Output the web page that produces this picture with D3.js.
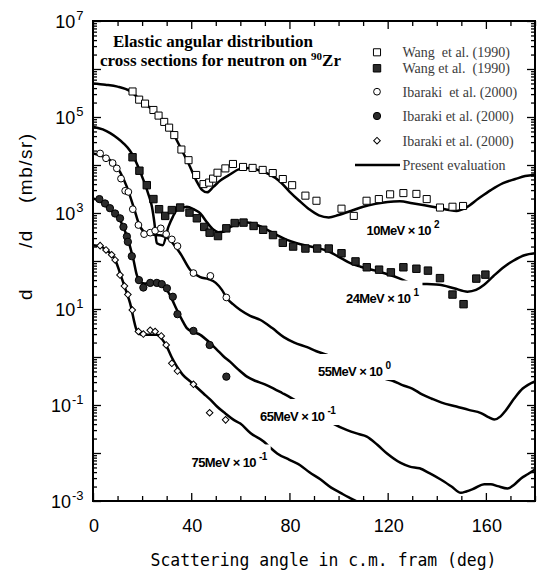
<!DOCTYPE html>
<html>
<head>
<meta charset="utf-8">
<script src="https://cdn.jsdelivr.net/npm/d3@7.9.0/dist/d3.min.js"></script>
<style>
  body { margin: 0; background: #fff; }
  svg { display: block; }
</style>
</head>
<body>
<svg id="chart" width="539" height="577"></svg>
<script>
// angle (deg, c.m.) and dsigma/dOmega (mb/sr), already multiplied by the scale factor
const eval10 = [[0, 5.0e5], [5, 4.7e5], [10, 4.3e5], [15, 3.5e5], [20, 2.1e5], [25, 1.3e5], [30, 6.9e4], [33, 4.2e4], [36, 2.1e4], [39, 1.05e4], [42, 4.8e3], [44.5, 3.0e3], [46.5, 2.7e3], [49, 3.5e3], [52, 4.8e3], [55, 6.0e3], [60, 8.3e3], [64, 8.7e3], [68, 7.6e3], [72, 6.3e3], [76, 4.6e3], [80, 2.8e3], [84, 1.8e3], [88, 1.2e3], [92, 890], [96, 810], [100, 910], [105, 1.1e3], [110, 1.35e3], [115, 1.55e3], [120, 1.7e3], [125, 1.75e3], [130, 1.6e3], [135, 1.45e3], [140, 1.3e3], [145, 1.15e3], [148, 1.1e3], [152, 1.3e3], [157, 2.0e3], [162, 3.0e3], [167, 4.2e3], [172, 5.1e3], [176, 5.9e3], [180, 6.3e3]];
const eval24 = [[0, 6.3e4], [4, 5.5e4], [7, 4.6e4], [10, 3.6e4], [12.5, 2.8e4], [15, 2.0e4], [16.5, 1.5e4], [18.5, 8.9e3], [20.5, 4.9e3], [22.5, 2.5e3], [24, 1.35e3], [25, 630], [26, 234], [28.4, 214], [30.7, 513], [32.5, 832], [34.2, 1.15e3], [38.2, 1.35e3], [41, 1.2e3], [43.7, 980], [46.5, 630], [49.1, 447], [51, 398], [53.2, 407], [56, 513], [60, 617], [63, 631], [66.8, 562], [71, 447], [75, 347], [79, 275], [83, 234], [88.6, 200], [95, 166], [101, 115], [105, 89], [109, 76], [115, 63], [121, 51], [125, 43], [129.4, 35], [136, 33], [141, 32], [147, 27], [152.5, 23], [156, 25], [159.3, 32], [163, 48], [167.5, 76], [171, 100], [175.7, 132], [180, 145]];
const eval55 = [[0, 1.74e4], [3, 1.58e4], [7, 1.26e4], [11, 7.2e3], [13.8, 3.5e3], [16.5, 1.35e3], [19.2, 513], [21.9, 380], [26, 347], [28.5, 331], [31.4, 275], [33.5, 200], [35.5, 145], [39.6, 65], [43.7, 46], [47, 42], [50, 35], [52.5, 25], [54.6, 16.6], [57, 12.6], [60, 9.5], [64, 7.2], [68.2, 5.9], [73, 4.0], [77.7, 2.6], [82, 2.0], [87.2, 1.6], [91, 1.32], [95.4, 1.10], [100, 0.85], [105, 0.66], [110, 0.52], [115, 0.42], [119, 0.35], [122, 0.32], [126, 0.26], [130, 0.22], [134, 0.166], [138, 0.135], [142, 0.112], [148, 0.093], [153, 0.079], [158, 0.068], [161, 0.056], [163.4, 0.050], [166, 0.058], [168, 0.076], [171.6, 0.138], [175, 0.22], [177, 0.26], [180, 0.31]];
const eval65 = [[0, 2.0e3], [3, 1.74e3], [5.6, 1.35e3], [8, 1.07e3], [11, 708], [13.8, 324], [16.5, 105], [17.8, 52], [19.5, 36], [21, 34], [26, 35], [28, 32], [30.1, 25], [32, 16.6], [34.2, 9.5], [36.2, 6.0], [38.2, 4.0], [41, 3.3], [43.7, 2.9], [47, 2.1], [50.5, 1.41], [53, 1.05], [55.9, 0.79], [59, 0.56], [62.7, 0.39], [66, 0.32], [70, 0.27], [73.6, 0.22], [77, 0.178], [81, 0.138], [85, 0.105], [89, 0.079], [93, 0.058], [97.4, 0.042], [103.5, 0.030], [108, 0.025], [111.5, 0.022], [115.8, 0.0148], [120, 0.0095], [125.3, 0.0062], [129, 0.0052], [133, 0.0048], [137, 0.0038], [141.6, 0.0028], [146, 0.0020], [149.8, 0.00148], [152, 0.00158], [155.2, 0.00182], [159.3, 0.00224], [162, 0.00224], [164.8, 0.00204], [168.8, 0.00182], [171.5, 0.00219], [174.3, 0.00295], [177, 0.0036], [180, 0.0045]];
const eval75 = [[0, 214], [3, 204], [5.3, 170], [7.6, 135], [9, 107], [11, 56], [13, 28], [15.1, 13.2], [17.8, 3.6], [19.5, 2.95], [22, 2.9], [26, 2.9], [28, 2.4], [30.1, 1.62], [32, 1.0], [34.2, 0.63], [36.5, 0.43], [39.6, 0.31], [42, 0.24], [45, 0.174], [48, 0.126], [50.5, 0.093], [54, 0.066], [57.3, 0.049], [60, 0.041], [64.1, 0.026], [69.5, 0.0174], [72, 0.0132], [75, 0.0098], [80, 0.0072], [84.5, 0.0055], [88, 0.0040], [92.7, 0.0028], [97, 0.0019], [100.8, 0.00148], [104, 0.0012], [107, 0.0010], [110, 0.00087]];

const wang10 = [[16.1, 3.4e5], [18.8, 2.3e5], [21.2, 1.9e5], [24.6, 1.4e5], [26.7, 1.07e5], [29, 7.9e4], [31, 6.0e4], [33.1, 4.2e4], [36, 2.1e4], [38.9, 1.26e4], [42, 6.2e3], [45, 4.0e3], [47.3, 4.3e3], [48.9, 5.2e3], [50.7, 6.9e3], [53.9, 8.5e3], [57, 1.05e4], [61.1, 9.1e3], [65, 8.7e3], [69.1, 7.9e3], [73.2, 6.8e3], [77.3, 5.1e3], [81.1, 3.8e3], [86.5, 2.3e3], [91, 1.8e3], [101.2, 1.23e3], [106.2, 870], [111.4, 1.8e3], [116.4, 1.95e3], [121, 2.45e3], [126.4, 2.6e3], [131.7, 2.5e3], [135.9, 1.95e3], [141.3, 1.3e3], [146.4, 1.35e3], [150.7, 1.4e3]];
const wang24 = [[16.1, 1.45e4], [18.9, 7.6e3], [21.9, 3.8e3], [24.6, 1.95e3], [26.9, 1.2e3], [29.4, 870], [32.1, 1.15e3], [35.5, 1.3e3], [39.3, 1.02e3], [42.3, 776], [45.3, 513], [47.5, 389], [50.9, 331], [54.3, 479], [57.7, 617], [61.3, 631], [65.4, 537], [69.3, 447], [73.3, 347], [77.3, 240], [81.5, 200], [86.5, 182], [91.3, 182], [96, 182], [101.2, 145], [106.9, 98], [111.5, 74], [116.5, 66], [121.3, 58], [126.4, 74], [131.7, 69], [136.4, 63], [141.3, 44], [146.4, 20], [150.9, 12.6], [156.1, 43], [159.8, 52]];
const ibaraki55 = [[2.9, 1.74e4], [5.3, 1.38e4], [8, 1.10e4], [9.7, 8.5e3], [11.4, 5.2e3], [13.1, 2.9e3], [14.4, 2.75e3], [16.2, 1.2e3], [18.5, 562], [20.8, 363], [23.3, 389], [25.3, 427], [27.6, 479], [29.8, 363], [32.1, 282], [34.4, 204], [40.9, 56], [47.8, 49], [54.3, 17.4]];
const ibaraki65 = [[2.6, 1.95e3], [4.9, 1.58e3], [6.9, 1.26e3], [9, 977], [11, 776], [12.4, 513], [13.8, 324], [14.2, 251], [15.8, 126], [18.7, 40], [20.5, 28], [23.3, 35], [26, 35], [28, 33], [30.1, 27], [32.5, 18], [34.4, 7.8], [40.9, 3.5], [47.5, 1.78], [54.3, 0.39]];
const ibaraki75 = [[2.9, 209], [5.3, 170], [7.6, 135], [9, 105], [11, 51], [12.8, 30], [14.2, 20], [16, 9.5], [18.5, 3.4], [20.5, 3.0], [23.3, 3.6], [25.3, 3.4], [27.8, 2.75], [29.8, 1.78], [32.1, 0.74], [34.4, 0.51], [40.9, 0.27], [47.5, 0.069], [54, 0.049]];

const curveNames = ['10MeV', '24MeV', '55MeV', '65MeV', '75MeV'];
const scaleExps = ['2', '1', '0', '-1', '-1'];
const legendLabels = ['Wang  et al. (1990)', 'Wang et al.  (1990)', 'Ibaraki  et al. (2000)', 'Ibaraki et al. (2000)', 'Ibaraki et al. (2000)', 'Present evaluation'];
const angleTicks = [0, 40, 80, 120, 160];
const decadeLabels = [7, 5, 3, 1, -1, -3];

const svg = d3.select('#chart');
const x = d3.scaleLinear().domain([0, 180]).range([93, 535]);
const y = d3.scaleLog().domain([1e-3, 1e7]).range([501, 21]);

const sans = 'Liberation Sans, Arial, sans-serif';
const serif = 'Liberation Serif, Times New Roman, serif';

svg.append('defs').append('clipPath').attr('id', 'plot-clip')
  .append('rect')
  .attr('x', 93).attr('y', 21).attr('width', 442).attr('height', 480);

// ticks (inward on all four sides)
const minorAngles = d3.range(0, 181, 10).filter((a) => a % 40 !== 0);
const decades = y.ticks(100).filter((v) => Math.abs(Math.log10(v) - Math.round(Math.log10(v))) < 1e-9);
const minorValues = y.ticks(100).filter((v) => !decades.includes(v));

function tickLayer(axis, tx, ty) {
  const g = svg.append('g').attr('transform', `translate(${tx},${ty})`).call(axis.tickFormat(''));
  g.select('.domain').remove();
  g.selectAll('line').attr('stroke', '#000').attr('stroke-width', 1.3);
}

tickLayer(d3.axisBottom(x).tickValues(angleTicks).tickSizeInner(-8).tickSizeOuter(0), 0, 501);
tickLayer(d3.axisBottom(x).tickValues(minorAngles).tickSizeInner(-5).tickSizeOuter(0), 0, 501);
tickLayer(d3.axisTop(x).tickValues(angleTicks).tickSizeInner(-8).tickSizeOuter(0), 0, 21);
tickLayer(d3.axisTop(x).tickValues(minorAngles).tickSizeInner(-5).tickSizeOuter(0), 0, 21);
tickLayer(d3.axisLeft(y).tickValues(decades).tickSizeInner(-8).tickSizeOuter(0), 93, 0);
tickLayer(d3.axisLeft(y).tickValues(minorValues).tickSizeInner(-4).tickSizeOuter(0), 93, 0);
tickLayer(d3.axisRight(y).tickValues(decades).tickSizeInner(-8).tickSizeOuter(0), 535, 0);
tickLayer(d3.axisRight(y).tickValues(minorValues).tickSizeInner(-4).tickSizeOuter(0), 535, 0);

svg.append('rect')
  .attr('x', 93).attr('y', 21).attr('width', 442).attr('height', 480)
  .attr('fill', 'none').attr('stroke', '#000').attr('stroke-width', 2);

// tick labels
svg.append('g').selectAll('text')
  .data(angleTicks)
  .join('text')
  .attr('x', (d) => x(d) + 1)
  .attr('y', 532)
  .attr('text-anchor', 'middle')
  .attr('font-family', sans)
  .attr('font-size', 18)
  .text((d) => d);

const yLabels = svg.append('g').selectAll('text')
  .data(decadeLabels)
  .join('text')
  .attr('x', 83.5)
  .attr('y', (d) => y(Math.pow(10, d)) + 6.5)
  .attr('text-anchor', 'end')
  .attr('font-family', sans)
  .attr('font-size', 18);
yLabels.append('tspan').text('10');
yLabels.append('tspan').attr('dx', 1).attr('dy', -8).attr('font-size', 13).text((d) => d);

// axis titles
svg.append('text')
  .attr('x', 150.5).attr('y', 566)
  .attr('font-family', 'DejaVu Sans Mono, monospace')
  .attr('font-size', 18)
  .attr('textLength', 346)
  .attr('lengthAdjust', 'spacingAndGlyphs')
  .text('Scattering angle in c.m. fram (deg)');

const yTitle = svg.append('g')
  .attr('transform', 'translate(32,300) rotate(-90)')
  .attr('font-family', sans)
  .attr('font-size', 19)
  .attr('letter-spacing', '1.5px');
yTitle.append('text').attr('x', 0).text('d');
yTitle.append('text').attr('x', 52).text('/d');
yTitle.append('text').attr('x', 97).text('(mb/sr)');

// evaluation curves
const line = d3.line()
  .x((d) => x(d[0]))
  .y((d) => y(d[1]))
  .curve(d3.curveMonotoneX);

const plot = svg.append('g').attr('clip-path', 'url(#plot-clip)');
plot.selectAll('path.eval')
  .data([eval10, eval24, eval55, eval65, eval75])
  .join('path')
  .attr('class', 'eval')
  .attr('d', line)
  .attr('fill', 'none')
  .attr('stroke', '#000')
  .attr('stroke-width', 2.5);

// curve labels on white boxes
const labelSpots = [[366.5, 235], [346, 302.5], [318, 376], [260, 421], [191.5, 466.5]];
curveNames.forEach((name, i) => {
  const g = svg.append('g');
  const box = g.append('rect').attr('fill', '#fff');
  const t = g.append('text')
    .attr('x', labelSpots[i][0]).attr('y', labelSpots[i][1])
    .attr('font-family', sans)
    .attr('font-weight', 'bold')
    .attr('font-size', 13)
    .attr('letter-spacing', '-0.6px');
  t.append('tspan').text(`${name} \u00d7 10`);
  t.append('tspan').attr('dx', 3).attr('dy', -7).attr('font-size', 10).text(scaleExps[i]);
  const bb = t.node().getBBox();
  box.attr('x', bb.x - 3).attr('y', labelSpots[i][1] - 22)
    .attr('width', bb.width + 6).attr('height', 26);
});

// experimental points
const symbolOf = {
  openSquare: { type: d3.symbolSquare, size: 50, fill: '#fff', rotate: 0 },
  fullSquare: { type: d3.symbolSquare, size: 55, fill: '#2b2b2b', rotate: 0 },
  openCircle: { type: d3.symbolCircle, size: 36, fill: '#fff', rotate: 0 },
  fullCircle: { type: d3.symbolCircle, size: 42, fill: '#2b2b2b', rotate: 0 },
  openDiamond: { type: d3.symbolSquare, size: 22, fill: '#fff', rotate: 45 },
};
const pointSets = [
  [wang10, 'openSquare'],
  [wang24, 'fullSquare'],
  [ibaraki55, 'openCircle'],
  [ibaraki65, 'fullCircle'],
  [ibaraki75, 'openDiamond'],
];

function drawSymbol(sel, kind) {
  const s = symbolOf[kind];
  sel.attr('d', d3.symbol(s.type, s.size))
    .attr('fill', s.fill)
    .attr('stroke', '#000')
    .attr('stroke-width', 1);
}

pointSets.forEach(([points, kind]) => {
  plot.append('g').selectAll('path')
    .data(points)
    .join('path')
    .attr('transform', (d) => `translate(${x(d[0])},${y(d[1])}) rotate(${symbolOf[kind].rotate})`)
    .call(drawSymbol, kind);
});

// title
const title = svg.append('g').attr('font-family', serif).attr('font-weight', 'bold').attr('font-size', 17);
title.append('text').attr('x', 113).attr('y', 46.5).text('Elastic angular distribution');
const t2 = title.append('text').attr('x', 100).attr('y', 65.5);
t2.append('tspan').text('cross sections for neutron on ');
t2.append('tspan').attr('dy', -6).attr('font-size', 11).text('90');
t2.append('tspan').attr('dy', 6).text('Zr');

// legend
const legendRows = [52.3, 68.3, 91.7, 116, 140.7, 165];
const legend = svg.append('g');
pointSets.forEach(([, kind], i) => {
  legend.append('path')
    .attr('transform', `translate(377,${legendRows[i]}) rotate(${symbolOf[kind].rotate})`)
    .call(drawSymbol, kind);
});
legend.append('line')
  .attr('x1', 355).attr('x2', 400)
  .attr('y1', legendRows[5]).attr('y2', legendRows[5])
  .attr('stroke', '#000').attr('stroke-width', 2.5);
legend.selectAll('text')
  .data(legendLabels)
  .join('text')
  .attr('x', 402.5)
  .attr('y', (_d, i) => legendRows[i] + 5)
  .attr('font-family', serif)
  .attr('font-size', 14)
  .attr('fill', '#3c3c3c')
  .style('white-space', 'pre')
  .text((d) => d);
</script>
</body>
</html>
